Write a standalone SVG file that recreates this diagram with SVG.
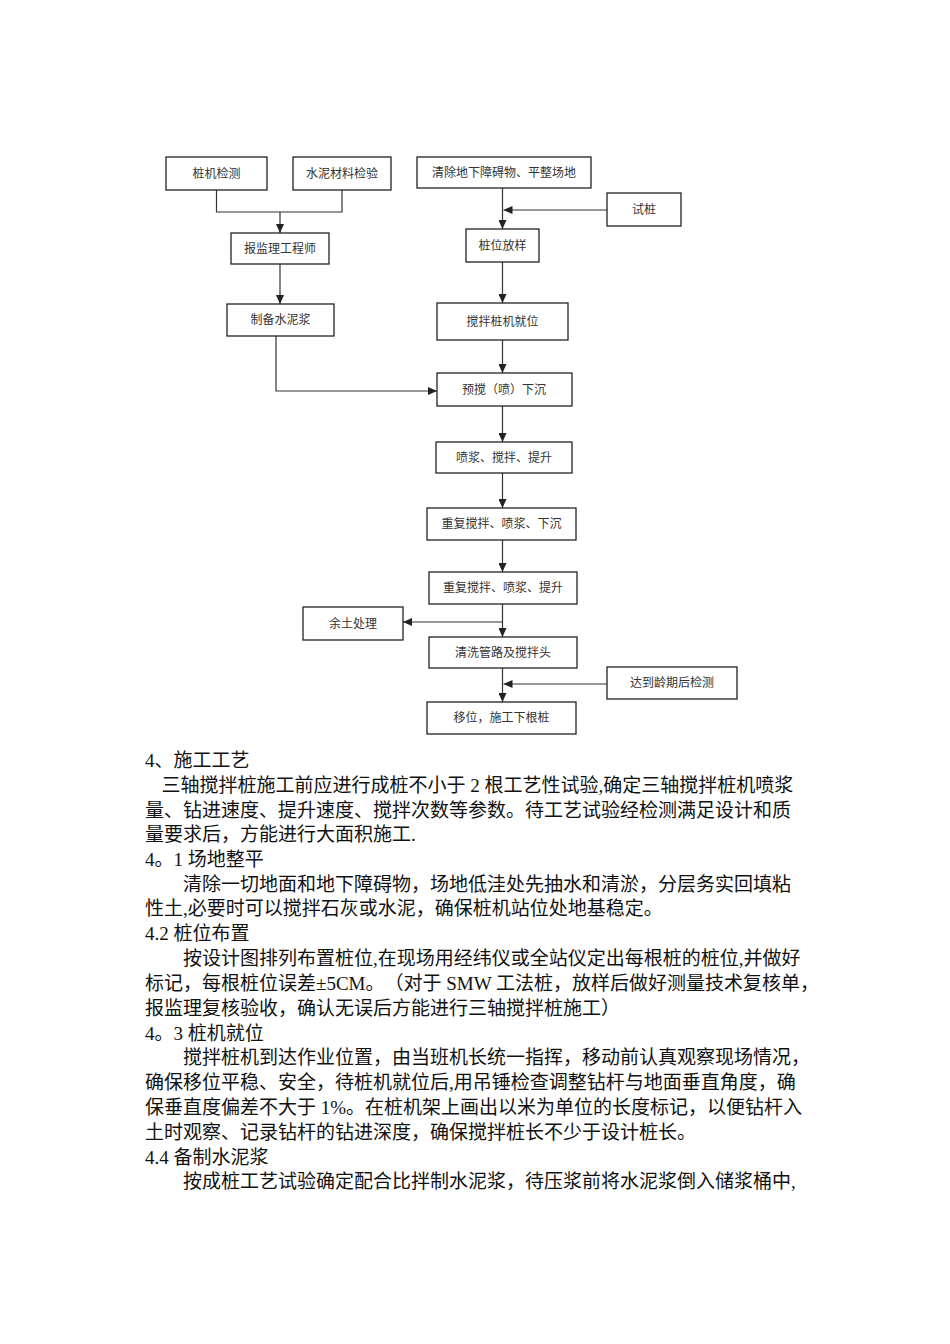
<svg xmlns="http://www.w3.org/2000/svg" width="950" height="1344" viewBox="0 0 950 1344">
<style>
.box{fill:#fff;stroke:#222;stroke-width:1.3}
.lbl{font-family:"Liberation Serif","Noto Sans CJK SC",serif;font-size:12px;fill:#333;text-anchor:middle}
.ln{fill:none;stroke:#333;stroke-width:1.2}
.body{font-family:"Liberation Serif","Noto Sans CJK SC",serif;font-size:19px;fill:#111;text-spacing-trim:space-all}
</style>
<defs>
<marker id="arr" markerUnits="userSpaceOnUse" markerWidth="9" markerHeight="8" refX="9" refY="4" orient="auto">
<path d="M0,0 L9,4 L0,8 z" fill="#222"/>
</marker>
</defs>
<rect width="950" height="1344" fill="#fff"/>

<g id="connectors">
<path class="ln" d="M216.5,190 V212 H342 V190"/>
<path class="ln" d="M280,212 V233" marker-end="url(#arr)"/>
<path class="ln" d="M280,264 V304" marker-end="url(#arr)"/>
<path class="ln" d="M276,336 V391 H437" marker-end="url(#arr)"/>
<path class="ln" d="M502.5,188 V229" marker-end="url(#arr)"/>
<path class="ln" d="M607,210 H503.5" marker-end="url(#arr)"/>
<path class="ln" d="M502.5,262 V303" marker-end="url(#arr)"/>
<path class="ln" d="M502.5,340 V373" marker-end="url(#arr)"/>
<path class="ln" d="M502.5,406 V442" marker-end="url(#arr)"/>
<path class="ln" d="M502.5,473 V508" marker-end="url(#arr)"/>
<path class="ln" d="M502.5,540 V572" marker-end="url(#arr)"/>
<path class="ln" d="M502.5,604 V637" marker-end="url(#arr)"/>
<path class="ln" d="M502.5,622 H403" marker-end="url(#arr)"/>
<path class="ln" d="M502.5,668 V702" marker-end="url(#arr)"/>
<path class="ln" d="M607,684 H503.5" marker-end="url(#arr)"/>
</g>

<g id="n1"><rect class="box" x="166" y="157" width="101" height="33"/><text class="lbl" x="216.5" y="178">桩机检测</text></g>
<g id="n2"><rect class="box" x="293" y="157" width="98" height="33"/><text class="lbl" x="342" y="178">水泥材料检验</text></g>
<g id="n3"><rect class="box" x="417" y="157" width="174" height="31"/><text class="lbl" x="504" y="177">清除地下障碍物、平整场地</text></g>
<g id="n4"><rect class="box" x="607" y="193" width="74" height="33"/><text class="lbl" x="644" y="214">试桩</text></g>
<g id="n5"><rect class="box" x="231" y="233" width="98" height="31"/><text class="lbl" x="280" y="253">报监理工程师</text></g>
<g id="n6"><rect class="box" x="466" y="229" width="73" height="33"/><text class="lbl" x="502.5" y="250">桩位放样</text></g>
<g id="n7"><rect class="box" x="227" y="304" width="107" height="32"/><text class="lbl" x="280.5" y="324">制备水泥浆</text></g>
<g id="n8"><rect class="box" x="437" y="303" width="131" height="37"/><text class="lbl" x="502.5" y="326">搅拌桩机就位</text></g>
<g id="n9"><rect class="box" x="437" y="373" width="135" height="33"/><text class="lbl" x="504" y="394">预搅（喷）下沉</text></g>
<g id="n10"><rect class="box" x="436" y="442" width="136" height="31"/><text class="lbl" x="504" y="462">喷浆、搅拌、提升</text></g>
<g id="n11"><rect class="box" x="427" y="508" width="149" height="32"/><text class="lbl" x="501.5" y="528">重复搅拌、喷浆、下沉</text></g>
<g id="n12"><rect class="box" x="429" y="572" width="148" height="32"/><text class="lbl" x="503" y="592">重复搅拌、喷浆、提升</text></g>
<g id="n13"><rect class="box" x="303" y="607" width="100" height="33"/><text class="lbl" x="353" y="628">余土处理</text></g>
<g id="n14"><rect class="box" x="429" y="637" width="148" height="31"/><text class="lbl" x="503" y="657">清洗管路及搅拌头</text></g>
<g id="n15"><rect class="box" x="607" y="667" width="130" height="32"/><text class="lbl" x="672" y="687">达到龄期后检测</text></g>
<g id="n16"><rect class="box" x="427" y="702" width="149" height="32"/><text class="lbl" x="501.5" y="722">移位，施工下根桩</text></g>

<g id="text">
<text class="body" x="145" y="767">4、施工工艺</text>
<text class="body" x="161.5" y="792">三轴搅拌桩施工前应进行成桩不小于 2 根工艺性试验,确定三轴搅拌桩机喷浆</text>
<text class="body" x="145" y="817">量、钻进速度、提升速度、搅拌次数等参数。待工艺试验经检测满足设计和质</text>
<text class="body" x="145" y="841">量要求后，方能进行大面积施工.</text>
<text class="body" x="145" y="866">4。1 场地整平</text>
<text class="body" x="183" y="891">清除一切地面和地下障碍物，场地低洼处先抽水和清淤，分层务实回填粘</text>
<text class="body" x="145" y="915">性土,必要时可以搅拌石灰或水泥，确保桩机站位处地基稳定。</text>
<text class="body" x="145" y="940">4.2 桩位布置</text>
<text class="body" x="183" y="965">按设计图排列布置桩位,在现场用经纬仪或全站仪定出每根桩的桩位,并做好</text>
<text class="body" x="145" y="990">标记，每根桩位误差±5CM。（对于 SMW 工法桩，放样后做好测量技术复核单，</text>
<text class="body" x="145" y="1015">报监理复核验收，确认无误后方能进行三轴搅拌桩施工）</text>
<text class="body" x="145" y="1040">4。3 桩机就位</text>
<text class="body" x="183" y="1064">搅拌桩机到达作业位置，由当班机长统一指挥，移动前认真观察现场情况，</text>
<text class="body" x="145" y="1089">确保移位平稳、安全，待桩机就位后,用吊锤检查调整钻杆与地面垂直角度，确</text>
<text class="body" x="145" y="1114">保垂直度偏差不大于 1%。在桩机架上画出以米为单位的长度标记，以便钻杆入</text>
<text class="body" x="145" y="1139">土时观察、记录钻杆的钻进深度，确保搅拌桩长不少于设计桩长。</text>
<text class="body" x="145" y="1164">4.4 备制水泥浆</text>
<text class="body" x="183" y="1188">按成桩工艺试验确定配合比拌制水泥浆，待压浆前将水泥浆倒入储浆桶中,</text>
</g>
</svg>
